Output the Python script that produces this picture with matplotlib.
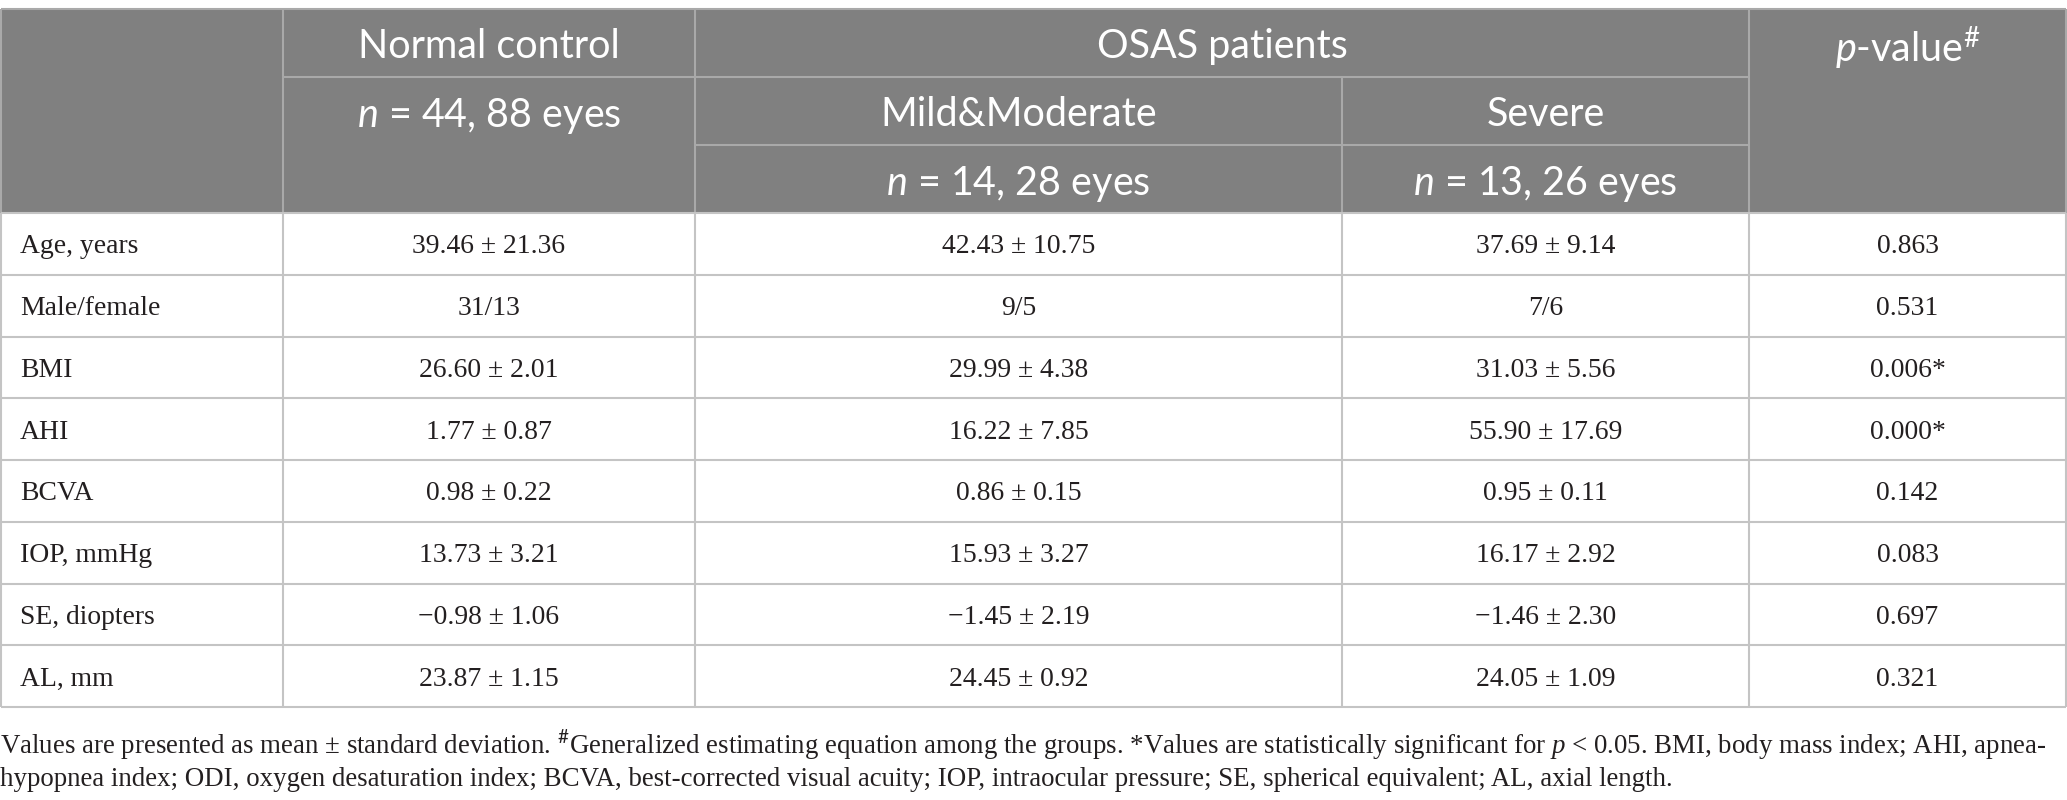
import matplotlib
matplotlib.use('Agg')
import matplotlib.pyplot as plt
from matplotlib.patches import Rectangle

plt.rcParams['mathtext.fontset'] = 'custom'
plt.rcParams['mathtext.it'] = 'Lato:italic'
plt.rcParams['mathtext.rm'] = 'Lato'
plt.rcParams['mathtext.sf'] = 'Liberation Serif:italic'

# table content
row_labels = ['Age, years', 'Male/female', 'BMI', 'AHI', 'BCVA', 'IOP, mmHg', 'SE, diopters', 'AL, mm']
normal = ['39.46 ± 21.36', '31/13', '26.60 ± 2.01', '1.77 ± 0.87', '0.98 ± 0.22',
          '13.73 ± 3.21', '\u22120.98 ± 1.06', '23.87 ± 1.15']
mild = ['42.43 ± 10.75', '9/5', '29.99 ± 4.38', '16.22 ± 7.85', '0.86 ± 0.15',
        '15.93 ± 3.27', '\u22121.45 ± 2.19', '24.45 ± 0.92']
severe = ['37.69 ± 9.14', '7/6', '31.03 ± 5.56', '55.90 ± 17.69', '0.95 ± 0.11',
          '16.17 ± 2.92', '\u22121.46 ± 2.30', '24.05 ± 1.09']
p_values = ['0.863', '0.531', '0.006*', '0.000*', '0.142', '0.083', '0.697', '0.321']

group_headers = ['Normal control', 'OSAS patients', r'$\mathit{p}$-value$^{\#}$']
sub_headers = ['Mild&Moderate', 'Severe']
n_headers = [r'$\mathit{n}$ = 44, 88 eyes', r'$\mathit{n}$ = 14, 28 eyes', r'$\mathit{n}$ = 13, 26 eyes']

footnote = [
    r'Values are presented as mean ± standard deviation. $^{\#}$Generalized estimating equation among the groups. '
    r'*Values are statistically significant for $\mathsf{p}$ < 0.05. BMI, body mass index; AHI, apnea-',
    'hypopnea index; ODI, oxygen desaturation index; BCVA, best-corrected visual acuity; IOP, intraocular pressure; '
    'SE, spherical equivalent; AL, axial length.',
]

W, H = 2067, 800
fig = plt.figure(figsize=(W / 100, H / 100), dpi=100)
ax = fig.add_axes([0, 0, 1, 1])
ax.set_xlim(0, W)
ax.set_ylim(H, 0)
ax.axis('off')
renderer = fig.canvas.get_renderer()

HEAD_BG = '#808080'
HEAD_LINE = '#a9a9a9'
BODY_LINE = '#c4c4c4'
SANS = 'Lato'
SERIF = 'Liberation Serif'

cols = [1, 283, 695, 1342, 1749, 2066]
top = 9
hrows = [top, 77, 145, 213]
row_h = 61.75
body_top = hrows[-1]
body_bot = body_top + row_h * len(row_labels)


def fit_size(text, family, target_w):
    t = ax.text(0, 0, text, fontsize=10, family=family)
    w = t.get_window_extent(renderer).width
    t.remove()
    return 10 * target_w / w


head_fs = fit_size('Normal control', SANS, 263)
body_fs = fit_size('39.46 ± 21.36', SERIF, 153)
foot_fs = fit_size(footnote[0], SERIF, 2048)

# header background
ax.add_patch(Rectangle((cols[0], top), cols[-1] - cols[0], body_top - top,
                       facecolor=HEAD_BG, edgecolor='none', zorder=0))


def hline(y, x0, x1, c):
    ax.plot([x0, x1], [y, y], color=c, lw=1.5, solid_capstyle='butt', zorder=2)


def vline(x, y0, y1, c):
    ax.plot([x, x], [y0, y1], color=c, lw=1.5, solid_capstyle='butt', zorder=2)


# header grid
hline(top, cols[0], cols[-1], HEAD_LINE)
hline(hrows[1], cols[1], cols[4], HEAD_LINE)
hline(hrows[2], cols[2], cols[4], HEAD_LINE)
for x in [cols[0], cols[1], cols[2], cols[4], cols[5]]:
    vline(x, top, body_top, HEAD_LINE)
vline(cols[3], hrows[1], body_top, HEAD_LINE)

# body grid
for i in range(len(row_labels) + 1):
    hline(body_top + i * row_h, cols[0], cols[-1], BODY_LINE)
for x in cols:
    vline(x, body_top, body_bot, BODY_LINE)

# header text
def mid(a, b):
    return (a + b) / 2


r1 = mid(hrows[0], hrows[1])
r2 = mid(hrows[1], hrows[2])
r3 = mid(hrows[2], hrows[3])
kw = dict(color='white', family=SANS, fontsize=head_fs, ha='center', va='center_baseline', zorder=3)
ax.text(mid(cols[1], cols[2]), r1, group_headers[0], **kw)
ax.text(mid(cols[2], cols[4]), r1, group_headers[1], **kw)
ax.text(mid(cols[4], cols[5]), r1, group_headers[2], **kw)
ax.text(mid(cols[2], cols[3]), r2, sub_headers[0], **kw)
ax.text(mid(cols[3], cols[4]), r2, sub_headers[1], **kw)
ax.text(mid(cols[1], cols[2]), r2, n_headers[0], **kw)
ax.text(mid(cols[2], cols[3]), r3, n_headers[1], **kw)
ax.text(mid(cols[3], cols[4]), r3, n_headers[2], **kw)

# body text
bkw = dict(color='#231f20', family=SERIF, fontsize=body_fs, va='center_baseline', zorder=3)
for i, lab in enumerate(row_labels):
    y = body_top + (i + 0.5) * row_h
    ax.text(20, y, lab, ha='left', **bkw)
    for j, col in enumerate([normal, mild, severe, p_values]):
        ax.text(mid(cols[j + 1], cols[j + 2]), y, col[i], ha='center', **bkw)

# footnote
for k, line in enumerate(footnote):
    ax.text(0, 741 + k * 35, line, ha='left', va='center_baseline', color='#231f20',
            family=SERIF, fontsize=foot_fs)

fig.savefig('out.png', dpi=100)
